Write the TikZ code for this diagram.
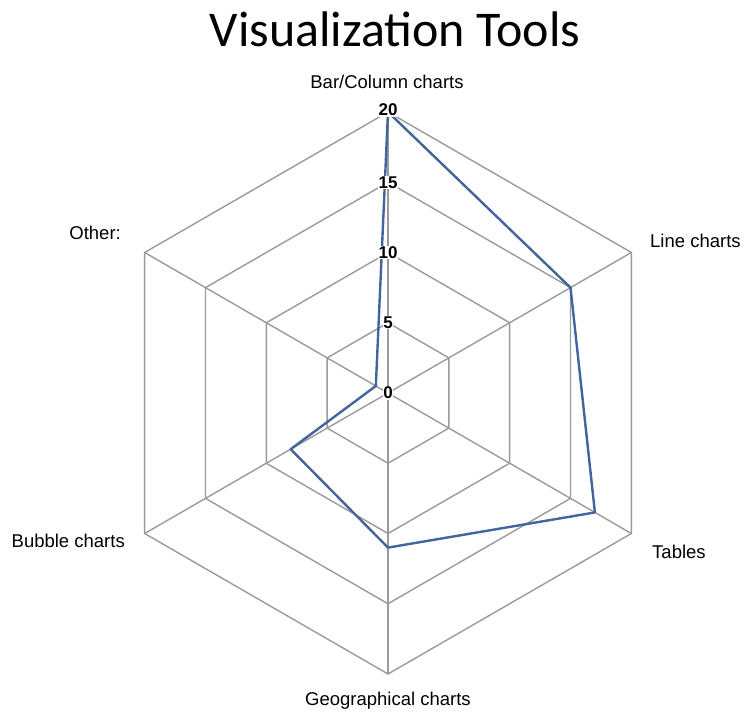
\documentclass[tikz,border=0pt]{standalone}
\usepackage{fontspec}
\usetikzlibrary{calc}
\setmainfont{Liberation Sans}
\newfontfamily\titlefont{Carlito}
\definecolor{gridgray}{RGB}{155,155,155}
\definecolor{serieblue}{RGB}{68,100,158}
\begin{document}
\begin{tikzpicture}[x=1pt,y=1pt,
  grid/.style={draw=gridgray,line width=1.4pt},
  serie/.style={draw=serieblue,line width=2.4pt,line join=round},
  axlabel/.style={font=\fontsize{18.5}{21}\selectfont,inner sep=0pt},
  tick/.style={font=\bfseries\fontsize{17}{19}\selectfont,fill=white,inner sep=0.6pt},
  titlelab/.style={font=\titlefont\fontsize{50}{56}\selectfont,inner sep=0pt}]
\useasboundingbox (0,0) rectangle (744,715);
\fill[white] (0,0) rectangle (744,715);
\coordinate (O) at (388,322);
% grid rings
\foreach \r in {70.25,140.5,210.75,281}{
  \draw[grid] ($(O)+(90:\r)$) -- ($(O)+(30:\r)$) -- ($(O)+(-30:\r)$) -- ($(O)+(-90:\r)$) -- ($(O)+(210:\r)$) -- ($(O)+(150:\r)$) -- cycle;
}
\foreach \a/\n in {90/vA,30/vB,-30/vC,-90/vD,210/vE,150/vF}{
  \coordinate (\n) at ($(O)+(\a:281)$);
  \draw[grid] (O) -- (\n);
}
% data
\coordinate (pA) at ($(O)+(90:281)$);
\coordinate (pB) at ($(O)+(30:210.75)$);
\coordinate (pC) at ($(O)+(-30:238.9)$);
\coordinate (pD) at ($(O)+(-90:154.6)$);
\coordinate (pE) at ($(O)+(210:112.4)$);
\coordinate (pF) at ($(O)+(150:14.05)$);
\draw[serie] (pA) -- (pB) -- (pC) -- (pD) -- (pE) -- (pF) -- cycle;
% ticks
\node[tick] (t0) at ($(O)+(90:0)$) {0};
\node[tick] (t5) at ($(O)+(90:70.25)$) {5};
\node[tick] (t10) at ($(O)+(90:140.5)$) {10};
\node[tick] (t15) at ($(O)+(90:210.75)$) {15};
\node[tick] (t20) at ($(O)+(90:283)$) {20};
% labels
\node[axlabel] (lA) at (387,633) {Bar/Column charts};
\node[axlabel,anchor=west] (lB) at (650,474) {Line charts};
\node[axlabel,anchor=west] (lC) at (652,163) {Tables};
\node[axlabel] (lD) at (388,14) {Geographical charts};
\node[axlabel,anchor=east] (lE) at (125,174) {Bubble charts};
\node[axlabel,anchor=east] (lF) at (121,482) {Other:};
\node[titlelab] (title) at (395,686) {Visualization Tools};
\end{tikzpicture}
\end{document}
